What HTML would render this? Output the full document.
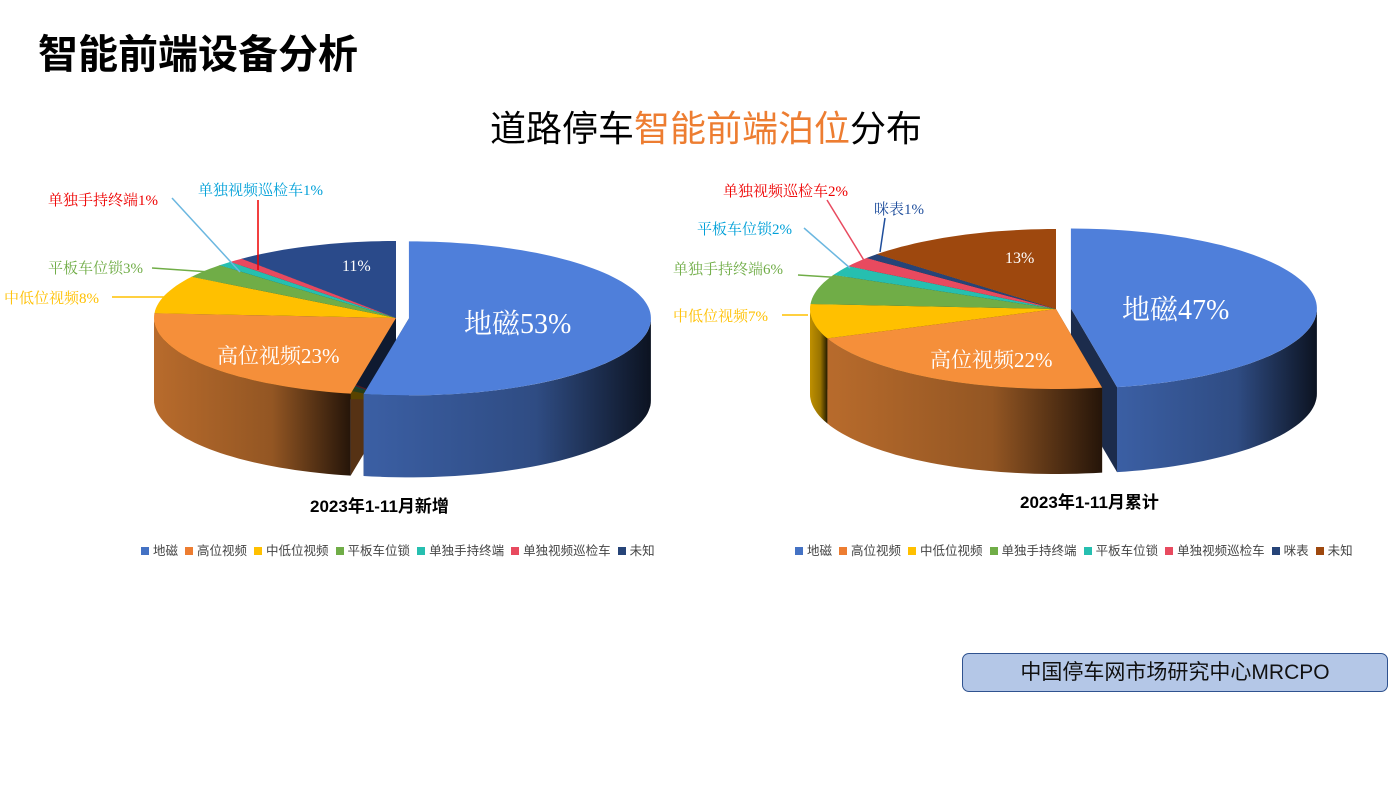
<!DOCTYPE html>
<html><head><meta charset="utf-8">
<style>
body{margin:0;width:1400px;height:787px;background:#fff;position:relative;overflow:hidden;font-family:"Liberation Sans","Noto Sans CJK SC",sans-serif}
.a{position:absolute;white-space:nowrap}
.s{font-family:"Liberation Serif","Noto Serif CJK SC",serif}
.lg{font-size:12.5px;color:#444}
.lg i{display:inline-block;width:8px;height:8px;margin:0 4px 0 7px}
</style></head><body>
<div class="a" style="left:38px;top:22px;font-size:40px;font-weight:bold;color:#000">智能前端设备分析</div>
<div class="a" style="left:490px;top:100px;font-size:36px;color:#000">道路停车<span style="color:#ed7d31">智能前端泊位</span>分布</div>
<svg id="sv" width="1400" height="787" style="position:absolute;left:0;top:0"></svg>
<div class="a s" style="left:464px;top:302px;font-size:28px;color:#fff">地磁53%</div>
<div class="a s" style="left:217px;top:340px;font-size:21px;color:#fff">高位视频23%</div>
<div class="a s" style="left:342px;top:258px;font-size:16px;color:#fff">11%</div>
<div class="a s" style="left:4px;top:287px;font-size:15px;color:#ffc000">中低位视频8%</div>
<div class="a s" style="left:48px;top:257px;font-size:15px;color:#70ad47">平板车位锁3%</div>
<div class="a s" style="left:48px;top:189px;font-size:15px;color:#e00">单独手持终端1%</div>
<div class="a s" style="left:198px;top:179px;font-size:15px;color:#00a0d8">单独视频巡检车1%</div>
<div class="a s" style="left:1122px;top:288px;font-size:28px;color:#fff">地磁47%</div>
<div class="a s" style="left:930px;top:344px;font-size:21px;color:#fff">高位视频22%</div>
<div class="a s" style="left:1005px;top:250px;font-size:16px;color:#fff">13%</div>
<div class="a s" style="left:673px;top:305px;font-size:15px;color:#ffc000">中低位视频7%</div>
<div class="a s" style="left:673px;top:258px;font-size:15px;color:#70ad47">单独手持终端6%</div>
<div class="a s" style="left:697px;top:218px;font-size:15px;color:#00a0d8">平板车位锁2%</div>
<div class="a s" style="left:723px;top:180px;font-size:15px;color:#e00">单独视频巡检车2%</div>
<div class="a s" style="left:874px;top:198px;font-size:15px;color:#1f4e9c">咪表1%</div>
<div class="a" style="left:310px;top:492px;font-size:17px;font-weight:bold">2023年1-11月新增</div>
<div class="a" style="left:1020px;top:488px;font-size:17px;font-weight:bold">2023年1-11月累计</div>
<div class="a lg" style="left:134px;top:540px"><i style="background:#4472c4"></i>地磁<i style="background:#ed7d31"></i>高位视频<i style="background:#ffc000"></i>中低位视频<i style="background:#70ad47"></i>平板车位锁<i style="background:#26bfb0"></i>单独手持终端<i style="background:#e84a5f"></i>单独视频巡检车<i style="background:#264478"></i>未知</div>
<div class="a lg" style="left:788px;top:540px"><i style="background:#4472c4"></i>地磁<i style="background:#ed7d31"></i>高位视频<i style="background:#ffc000"></i>中低位视频<i style="background:#70ad47"></i>单独手持终端<i style="background:#26bfb0"></i>平板车位锁<i style="background:#e84a5f"></i>单独视频巡检车<i style="background:#264478"></i>咪表<i style="background:#9e480e"></i>未知</div>
<div class="a" style="left:962px;top:653px;width:424px;height:37px;background:#b4c7e7;border:1.5px solid #2f528f;border-radius:7px;font-size:21px;line-height:37px;text-align:center;color:#111">中国停车网市场研究中心MRCPO</div>
<script>
var sv=document.getElementById('sv'),h='';
var defs='';
function shade(c,f){var n=parseInt(c.slice(1),16),r=n>>16,g=(n>>8)&255,b=n&255;return 'rgb('+Math.round(r*f)+','+Math.round(g*f)+','+Math.round(b*f)+')';}
var gid=0;
function pie(cx,cy,rx,ry,d,data,exp){
 var a=0,sl=[];
 data.forEach(function(s,i){var a1=a,a2=a+s[0]*3.6;a=a2;var m=(a1+a2)/2*Math.PI/180;var o=(i==0?exp:0);sl.push({a1:a1,a2:a2,c:s[1],ox:o*Math.sin(m),oy:-o*Math.cos(m)*ry/rx});});
 function P(s,t,dy){var r=t*Math.PI/180;return [cx+s.ox+rx*Math.sin(r),cy+s.oy-ry*Math.cos(r)+(dy||0)];}
 function arc(s,t1,t2,dy){var p='',n=Math.max(2,Math.ceil((t2-t1)/2));for(var k=0;k<=n;k++){var q=P(s,t1+(t2-t1)*k/n,dy);p+=(k?'L':'')+q[0].toFixed(1)+','+q[1].toFixed(1);}return p;}
 function rev(s,t1,t2,dy){var p='',n=Math.max(2,Math.ceil((t2-t1)/2));for(var k=n;k>=0;k--){var q=P(s,t1+(t2-t1)*k/n,dy);p+='L'+q[0].toFixed(1)+','+q[1].toFixed(1);}return p;}
 sl.forEach(function(s){[s.a1,s.a2].forEach(function(t){var c=[cx+s.ox,cy+s.oy],e=P(s,t);h+='<path d="M'+c[0]+','+c[1]+'L'+e[0]+','+e[1]+'L'+e[0]+','+(e[1]+d)+'L'+c[0]+','+(c[1]+d)+'Z" fill="'+shade(s.c,0.35)+'"/>';});});
 sl.forEach(function(s){var t1=Math.max(s.a1,90),t2=Math.min(s.a2,270);if(t2<=t1)return;
  var id='g'+(gid++);var l=P(s,t1)[0],r=P(s,t2)[0];
  defs+='<linearGradient id="'+id+'" gradientUnits="userSpaceOnUse" x1="'+Math.min(l,r)+'" x2="'+Math.max(l,r)+'" y1="0" y2="0"><stop offset="0" stop-color="'+shade(s.c,0.75)+'"/><stop offset="0.6" stop-color="'+shade(s.c,0.6)+'"/><stop offset="1" stop-color="'+shade(s.c,0.15)+'"/></linearGradient>';
  h+='<path d="M'+arc(s,t1,t2,0)+rev(s,t1,t2,d)+'Z" fill="url(#'+id+')"/>';});
 sl.forEach(function(s){h+='<path d="M'+(cx+s.ox)+','+(cy+s.oy)+'L'+arc(s,s.a1,s.a2,0)+'Z" fill="'+s.c+'"/>';});
}
pie(396,318,242,77,82,[[53,'#4f7fda'],[23,'#f58f3a'],[8,'#ffc000'],[3,'#70ad47'],[1,'#26bfb0'],[1,'#e84a5f'],[11,'#2a4a8a']],13);
pie(1056,309,246,80,85,[[47,'#4f7fda'],[22,'#f58f3a'],[7,'#ffc000'],[6,'#70ad47'],[2,'#26bfb0'],[2,'#e84a5f'],[1,'#264478'],[13,'#9e480e']],15);
var L='<g fill="none" stroke-width="1.5">'+
'<path d="M112,297H170L186,300" stroke="#ffc000"/><path d="M152,268L210,272" stroke="#70ad47"/>'+
'<path d="M172,198L240,272" stroke="#6bb7e0"/><path d="M258,200V270" stroke="#e00"/>'+
'<path d="M782,315H808" stroke="#ffc000"/><path d="M798,275L845,278" stroke="#70ad47"/>'+
'<path d="M804,228L850,268" stroke="#6bb7e0"/><path d="M827,200L865,262" stroke="#e84a5f"/><path d="M885,218L880,252" stroke="#1f4e9c"/></g>';
sv.innerHTML='<defs>'+defs+'</defs>'+h+L;
</script>
</body></html>
